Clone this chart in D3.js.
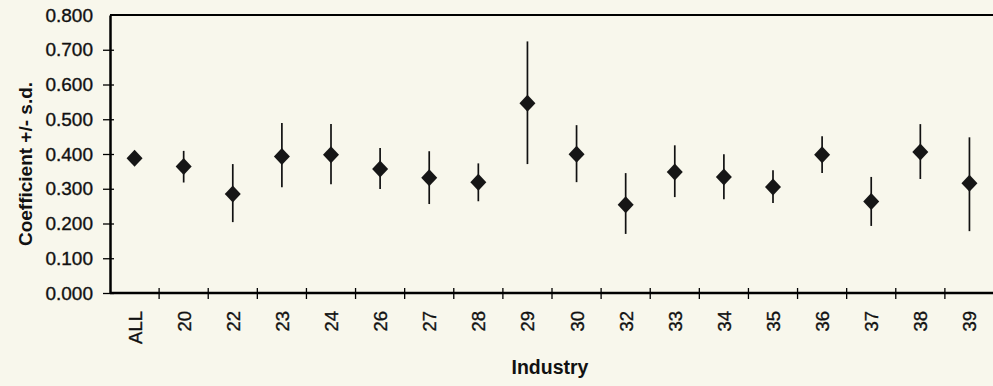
<!DOCTYPE html>
<html>
<head>
<meta charset="utf-8">
<title>Coefficient by industry</title>
<script src="https://d3js.org/d3.v7.min.js"></script>
<style>
  body { margin: 0; background: #f8f7ec; }
  svg { display: block; font-family: Arial, "Liberation Sans", sans-serif; }
</style>
</head>
<body>
<svg width="993" height="386"></svg>
<script>
// values
const industries = ["ALL", "20", "22", "23", "24", "26", "27", "28", "29", "30", "32", "33", "34", "35", "36", "37", "38", "39"];
const coef  = [0.388, 0.364, 0.285, 0.393, 0.398, 0.357, 0.332, 0.319, 0.546, 0.399, 0.254, 0.348, 0.334, 0.305, 0.398, 0.263, 0.406, 0.316];
const upper = [0.388, 0.409, 0.371, 0.489, 0.486, 0.417, 0.408, 0.373, 0.724, 0.483, 0.345, 0.425, 0.399, 0.353, 0.451, 0.334, 0.486, 0.448];
const lower = [0.388, 0.318, 0.204, 0.304, 0.313, 0.299, 0.256, 0.264, 0.371, 0.319, 0.170, 0.276, 0.270, 0.259, 0.345, 0.193, 0.328, 0.178];
const yTicks = [0, 0.1, 0.2, 0.3, 0.4, 0.5, 0.6, 0.7, 0.8];

const svg = d3.select("svg");
const m = {left: 110, top: 15, bottom: 93};
const W = 993, H = 386;

const x = d3.scaleBand().domain(industries).range([m.left, 994]);
const y = d3.scaleLinear().domain([0, 0.8]).range([H - m.bottom, m.top]);

// top border
svg.append("line")
    .attr("x1", m.left).attr("x2", W)
    .attr("y1", y(0.8)).attr("y2", y(0.8))
    .attr("stroke", "#000").attr("stroke-width", 2);

// y axis
const yAxis = svg.append("g")
    .attr("transform", `translate(${m.left},0)`)
    .call(d3.axisLeft(y).tickValues(yTicks).tickFormat(d3.format(".3f")).tickSizeInner(7).tickSizeOuter(0).tickPadding(10));
yAxis.select(".domain").attr("stroke-width", 2.5);
yAxis.selectAll(".tick line").attr("x2", 4).attr("x1", -7).attr("stroke-width", 1.3);
yAxis.selectAll(".tick text")
    .style("font-size", "19px").attr("fill", "#111")
    .attr("stroke", "#111").attr("stroke-width", 0.35);
yAxis.select(".tick:last-child line").remove();

// x axis with ticks between categories
const xAxis = svg.append("g")
    .attr("transform", `translate(0,${y(0)})`);
xAxis.append("line")
    .attr("x1", m.left).attr("x2", W)
    .attr("stroke", "#000").attr("stroke-width", 2.5);
xAxis.selectAll("line.tk")
    .data(industries.slice(1))
    .join("line")
    .attr("class", "tk")
    .attr("x1", d => x(d)).attr("x2", d => x(d))
    .attr("y1", -5).attr("y2", 6)
    .attr("stroke", "#000").attr("stroke-width", 1.3);
xAxis.selectAll("text")
    .data(industries)
    .join("text")
    .attr("transform", d => `translate(${x(d) + x.bandwidth() / 2 + 7},18) rotate(-90)`)
    .attr("text-anchor", "end")
    .style("font-size", "18.5px")
    .attr("fill", "#111")
    .attr("stroke", "#111").attr("stroke-width", 0.35)
    .text(d => d);

// error bars
const pts = industries.map((d, i) => ({ind: d, v: coef[i], hi: upper[i], lo: lower[i]}));
svg.append("g").selectAll("line")
    .data(pts.filter(p => p.hi > p.lo))
    .join("line")
    .attr("x1", p => x(p.ind) + x.bandwidth() / 2)
    .attr("x2", p => x(p.ind) + x.bandwidth() / 2)
    .attr("y1", p => y(p.hi)).attr("y2", p => y(p.lo))
    .attr("stroke", "#111").attr("stroke-width", 1.7);

// diamond markers
svg.append("g").selectAll("path")
    .data(pts)
    .join("path")
    .attr("transform", p => `translate(${x(p.ind) + x.bandwidth() / 2},${y(p.v)})`)
    .attr("d", "M0,-8.5L8,0L0,8.5L-8,0Z")
    .attr("fill", "#161616");

// axis titles
svg.append("text")
    .attr("transform", `translate(32,164) rotate(-90)`)
    .attr("text-anchor", "middle")
    .style("font-size", "19px").style("font-weight", "bold")
    .attr("fill", "#111")
    .text("Coefficient +/- s.d.");

svg.append("text")
    .attr("x", 550).attr("y", 374)
    .attr("text-anchor", "middle")
    .style("font-size", "19.5px").style("font-weight", "bold")
    .attr("fill", "#111")
    .text("Industry");
</script>
</body>
</html>
